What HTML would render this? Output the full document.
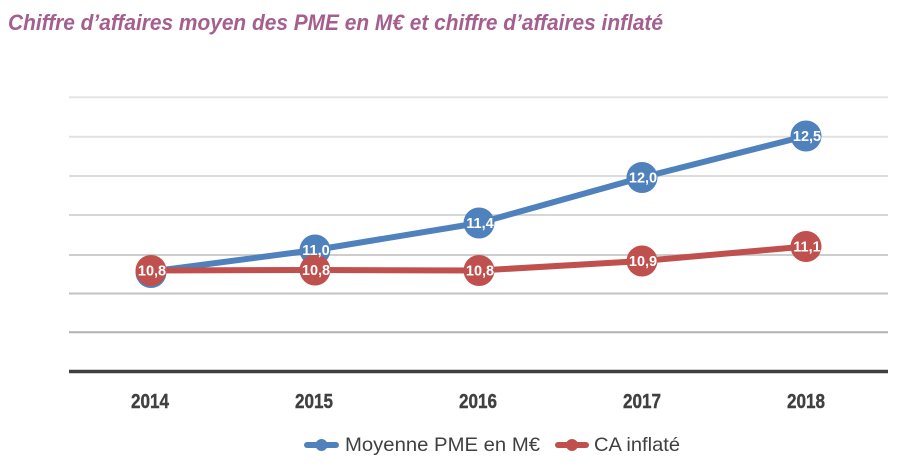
<!DOCTYPE html>
<html>
<head>
<meta charset="utf-8">
<style>
  html, body { margin: 0; padding: 0; background: #ffffff; }
  body { width: 912px; height: 475px; overflow: hidden; }
  svg { display: block; }
</style>
</head>
<body>
<svg width="912" height="475" viewBox="0 0 912 475" xmlns="http://www.w3.org/2000/svg">
  <rect x="0" y="0" width="912" height="475" fill="#ffffff"/>

  <!-- Title -->
  <text x="8" y="30" font-family="'Liberation Sans', sans-serif" font-size="22" font-weight="bold" font-style="italic" fill="#a45f8f" textLength="655" lengthAdjust="spacingAndGlyphs">Chiffre d’affaires moyen des PME en M€ et chiffre d’affaires inflaté</text>

  <!-- Gridlines -->
  <g stroke-width="2">
    <line x1="69" y1="97.3" x2="888" y2="97.3" stroke="#e5e5e5"/>
    <line x1="69" y1="136.7" x2="888" y2="136.7" stroke="#e1e1e1"/>
    <line x1="69" y1="176" x2="888" y2="176" stroke="#dcdcdc"/>
    <line x1="69" y1="215" x2="888" y2="215" stroke="#d6d6d6"/>
    <line x1="69" y1="255" x2="888" y2="255" stroke="#cdcdcd"/>
    <line x1="69" y1="293.5" x2="888" y2="293.5" stroke="#c2c2c2"/>
    <line x1="69" y1="332.3" x2="888" y2="332.3" stroke="#b2b2b2"/>
  </g>
  <!-- Axis -->
  <line x1="69" y1="371.5" x2="888" y2="371.5" stroke="#404040" stroke-width="3.5"/>

  <!-- Year labels -->
  <g font-family="'Liberation Sans', sans-serif" font-size="20" font-weight="bold" fill="#404040" text-anchor="middle" stroke="#404040" stroke-width="0.4">
    <text x="150" y="408" textLength="38" lengthAdjust="spacingAndGlyphs">2014</text>
    <text x="314" y="408" textLength="38" lengthAdjust="spacingAndGlyphs">2015</text>
    <text x="478" y="408" textLength="38" lengthAdjust="spacingAndGlyphs">2016</text>
    <text x="642" y="408" textLength="38" lengthAdjust="spacingAndGlyphs">2017</text>
    <text x="806" y="408" textLength="38" lengthAdjust="spacingAndGlyphs">2018</text>
  </g>

  <!-- Blue series -->
  <polyline points="151,271.5 315,250 479,223 642,177.5 806,136" fill="none" stroke="#4f81bd" stroke-width="6" stroke-linejoin="round"/>
  <g fill="#4f81bd">
    <circle cx="151" cy="272.5" r="15.5"/>
    <circle cx="315" cy="250" r="15.5"/>
    <circle cx="479" cy="223" r="15.5"/>
    <circle cx="642" cy="177.5" r="15.5"/>
    <circle cx="806" cy="136" r="15.5"/>
  </g>

  <!-- Red series -->
  <polyline points="151,270.5 315,270 479,270.5 642,261 806,246.5" fill="none" stroke="#c0504d" stroke-width="6" stroke-linejoin="round"/>
  <g fill="#c0504d">
    <circle cx="151" cy="270.5" r="15.5"/>
    <circle cx="315" cy="270" r="15.5"/>
    <circle cx="479" cy="270.5" r="15.5"/>
    <circle cx="642" cy="261" r="15.5"/>
    <circle cx="806" cy="246.5" r="15.5"/>
  </g>

  <!-- Data labels -->
  <g font-family="'Liberation Sans', sans-serif" font-size="14.5" font-weight="bold" fill="#ffffff" text-anchor="middle">
    <text x="316" y="255">11,0</text>
    <text x="480" y="228">11,4</text>
    <text x="643" y="182.5">12,0</text>
    <text x="807" y="141">12,5</text>
    <text x="152" y="275.5">10,8</text>
    <text x="316" y="275">10,8</text>
    <text x="480" y="275.5">10,8</text>
    <text x="643" y="266">10,9</text>
    <text x="807" y="251.5">11,1</text>
  </g>

  <!-- Legend -->
  <line x1="307" y1="445" x2="336" y2="445" stroke="#4f81bd" stroke-width="6" stroke-linecap="round"/>
  <circle cx="321.5" cy="445" r="6" fill="#4f81bd"/>
  <text x="345" y="451" font-family="'Liberation Sans', sans-serif" font-size="19.5" fill="#404040" textLength="195" lengthAdjust="spacingAndGlyphs">Moyenne PME en M€</text>

  <line x1="558" y1="445" x2="586" y2="445" stroke="#c0504d" stroke-width="6" stroke-linecap="round"/>
  <circle cx="572" cy="445" r="6" fill="#c0504d"/>
  <text x="594" y="451" font-family="'Liberation Sans', sans-serif" font-size="19.5" fill="#404040" textLength="86" lengthAdjust="spacingAndGlyphs">CA inflaté</text>
</svg>
</body>
</html>
